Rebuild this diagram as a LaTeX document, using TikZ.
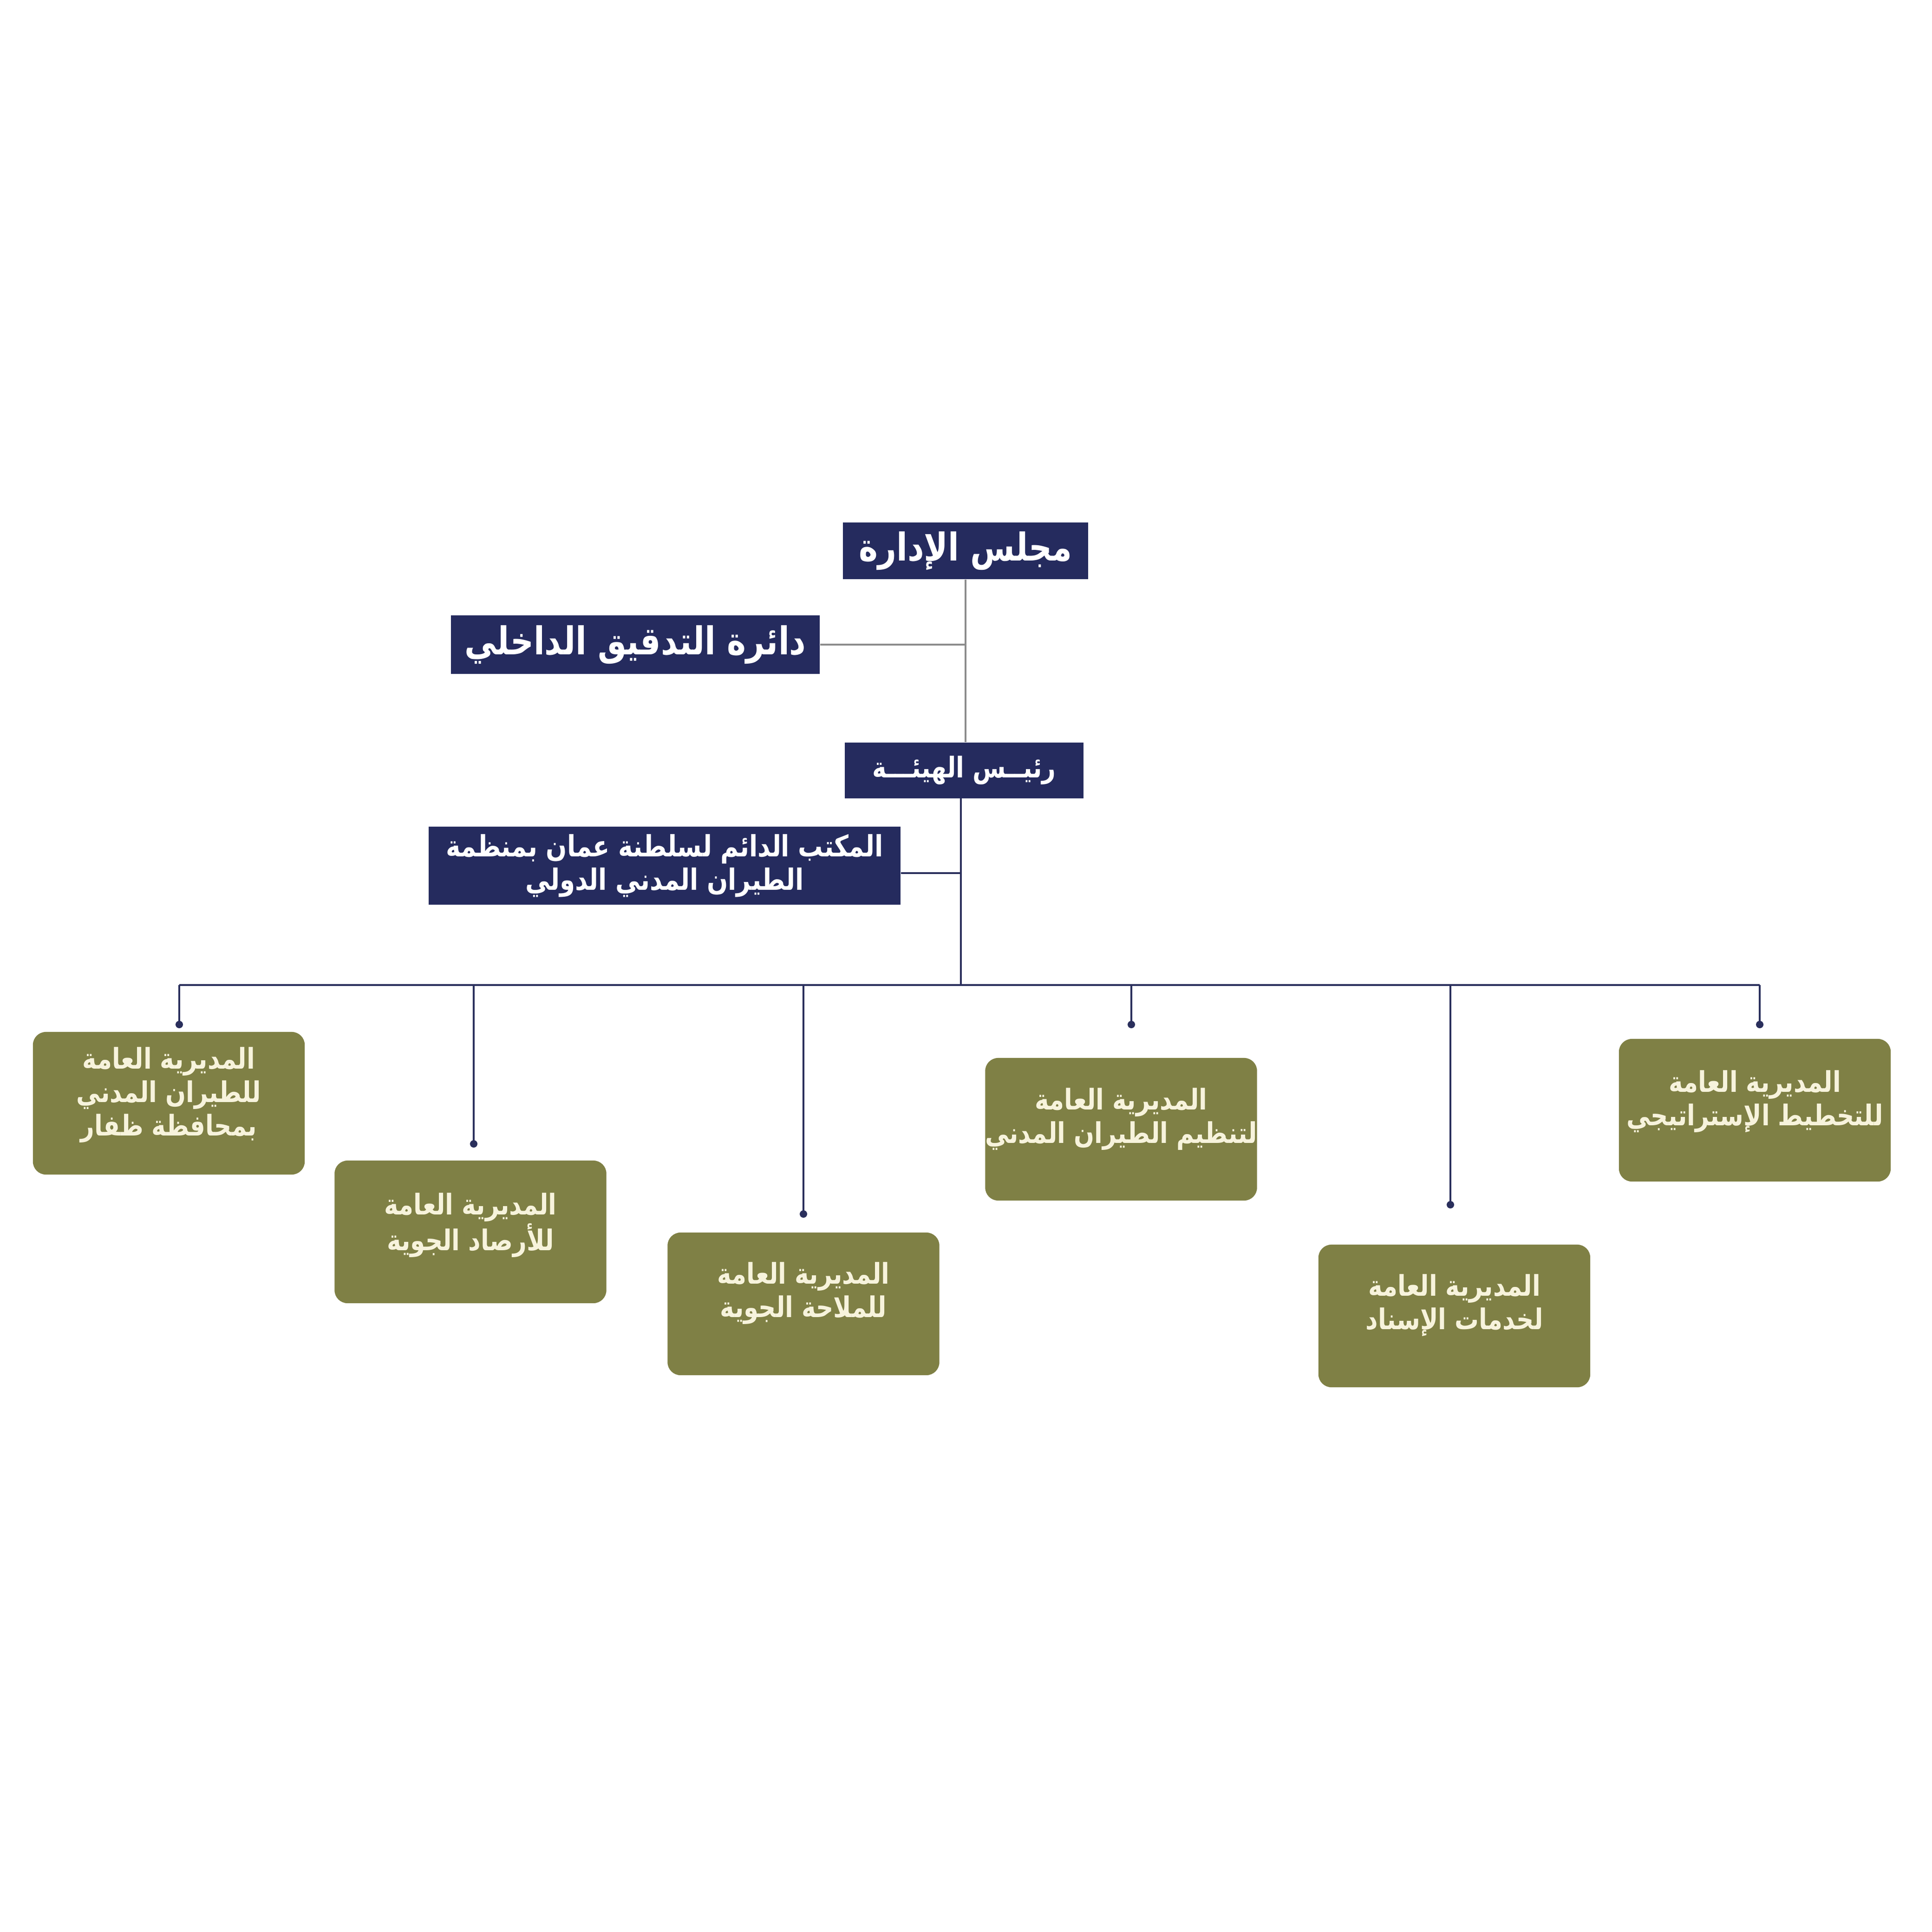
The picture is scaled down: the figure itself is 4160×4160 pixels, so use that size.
\documentclass[tikz,border=0pt]{standalone}
\usepackage{fontspec}
\TeXXeTstate=1
\newfontfamily\arabicfont[Script=Arabic,FakeStretch=0.84]{DejaVu Sans}
\definecolor{navy}{HTML}{252B5E}
\definecolor{olivebox}{HTML}{7F8045}
\definecolor{creamtext}{HTML}{F7F3DC}
\definecolor{grayline}{HTML}{8C8C8C}
\definecolor{navyline}{HTML}{2A2F5C}
\begin{document}
\begin{tikzpicture}[x=0.01cm,y=-0.01cm,
  navybox/.style={fill=navy, inner sep=0pt, text=white, font=\arabicfont\bfseries, align=center},
  greenbox/.style={fill=olivebox, rounded corners=0.28cm, inner sep=0pt, minimum width=5.85cm, minimum height=3.07cm},
  greentext/.style={text=creamtext, font=\arabicfont\bfseries\fontsize{17.5}{20.5}\selectfont, align=center, inner sep=0pt},
  grayconn/.style={draw=grayline, line width=1.4pt},
  navyconn/.style={draw=navyline, line width=1.1pt},
  enddot/.style={fill=navyline, draw=none}]
\fill[white] (0,0) rectangle (4160,4160);
\useasboundingbox (0,0) rectangle (4160,4160);

% top navy boxes
\node[navybox, minimum width=5.28cm, minimum height=1.22cm, font=\arabicfont\bfseries\fontsize{23.5}{28}\selectfont] (board) at (2079,1186) {\beginR مجلس الإدارة\endR};
\node[navybox, minimum width=7.94cm, minimum height=1.26cm, font=\arabicfont\bfseries\fontsize{23.5}{28}\selectfont] (audit) at (1368,1388) {\beginR دائرة التدقيق الداخلي\endR};
\node[navybox, minimum width=5.14cm, minimum height=1.20cm, font=\arabicfont\bfseries\fontsize{17.5}{23}\selectfont] (pres) at (2076,1659) {\beginR رئيــس الهيئـــة\endR};
\node[navybox, minimum width=10.15cm, minimum height=1.68cm, font=\arabicfont\bfseries\fontsize{18}{20.5}\selectfont] (office) at (1431,1864) {\beginR المكتب الدائم لسلطنة عمان بمنظمة\endR\\\beginR الطيران المدني الدولي\endR};

% gray connectors
\draw[grayconn] (board.south) -- (board.south |- pres.north);
\coordinate (auditjoin) at (board.south |- audit.east);
\draw[grayconn] (audit.east) -- (auditjoin);

% navy trunk and bus
\coordinate (trunktop) at (2069,1719);
\coordinate (trunkbot) at (2069,2121);
\coordinate (officejoin) at (2069,1880);
\coordinate (busL) at (386,2121);
\coordinate (busR) at (3789,2121);
\draw[navyconn] (trunktop) -- (trunkbot);
\draw[navyconn] (officejoin -| office.east) -- (officejoin);
\draw[navyconn] (busL) -- (busR);

% green boxes
\node[greenbox] (g1) at (363.5,2375.5) {};
\node[greenbox] (g2) at (1013,2652.5) {};
\node[greenbox] (g3) at (1730,2807.5) {};
\node[greenbox] (g4) at (2414,2431.5) {};
\node[greenbox] (g5) at (3131.5,2833.5) {};
\node[greenbox] (g6) at (3778.5,2390.5) {};

\node[greentext] (t1) at (363.5,2358) {\beginR المديرية العامة\endR\\\beginR للطيران المدني\endR\\\beginR بمحافظة ظفار\endR};
\node[greentext] (t2) at (1013,2638) {\beginR المديرية العامة\endR\\\beginR للأرصاد الجوية\endR};
\node[greentext] (t3) at (1730,2785) {\beginR المديرية العامة\endR\\\beginR للملاحة الجوية\endR};
\node[greentext] (t4) at (2414,2410) {\beginR المديرية العامة\endR\\\beginR لتنظيم الطيران المدني\endR};
\node[greentext] (t5) at (3131.5,2811) {\beginR المديرية العامة\endR\\\beginR لخدمات الإسناد\endR};
\node[greentext] (t6) at (3778.5,2372) {\beginR المديرية العامة\endR\\\beginR للتخطيط الإستراتيجي\endR};

% drops with end dots
\foreach \i/\x/\dy in {1/386/2206, 2/1020/2463, 3/1730/2614, 4/2436/2206, 5/3123/2594, 6/3789/2206}{
  \coordinate (top\i) at (\x,2121);
  \coordinate (dot\i) at (\x,\dy);
  \draw[navyconn] (top\i) -- (dot\i);
  \fill[enddot] (dot\i) circle (0.08cm);
}
\end{tikzpicture}
\end{document}
